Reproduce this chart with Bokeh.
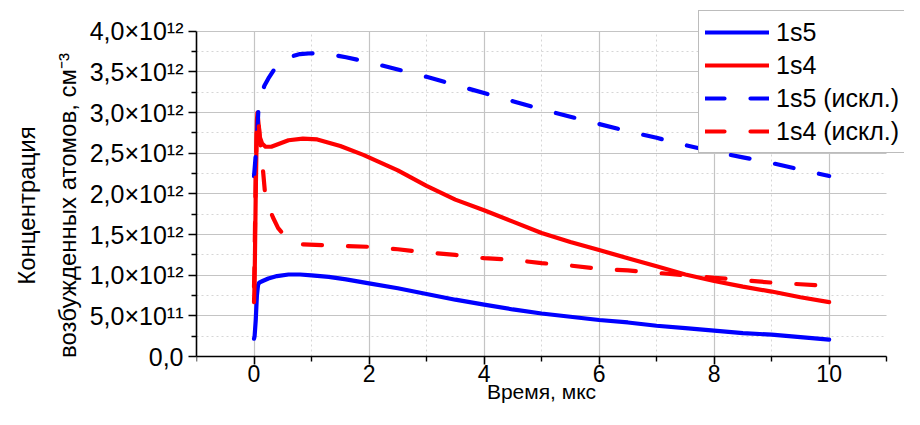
from bokeh.plotting import figure
from bokeh.models import Range1d, FixedTicker, Legend, LegendItem, ColumnDataSource
from bokeh.embed import file_html
from bokeh.resources import INLINE
import numpy as np

# ---- data (concentration in units of 1e12 cm^-3, time in microseconds) ----
t_s5 = [0, 0.01, 0.03, 0.05, 0.07, 0.09, 0.15, 0.25, 0.4, 0.6, 0.8, 1.0, 1.3, 1.6, 2.0, 2.5,
        3.0, 3.5, 4.0, 4.5, 5.0, 5.5, 6.0, 6.5, 7.0, 7.5, 8.0, 8.5, 9.0, 9.5, 10.0]
s5 = [0.22, 0.25, 0.45, 0.75, 0.88, 0.91, 0.93, 0.96, 0.99, 1.01, 1.01, 1.0, 0.98, 0.95, 0.90, 0.84,
      0.77, 0.70, 0.64, 0.58, 0.53, 0.49, 0.45, 0.42, 0.38, 0.35, 0.32, 0.29, 0.27, 0.24, 0.21]

t_s4 = [0, 0.01, 0.03, 0.05, 0.06, 0.08, 0.1, 0.14, 0.2, 0.3, 0.45, 0.6, 0.85, 1.1, 1.5, 1.9,
        2.5, 3.0, 3.5, 4.0, 4.5, 5.0, 5.5, 6.0, 6.5, 7.0, 7.5, 8.0, 8.5, 9.0, 9.5, 10.0]
s4 = [0.67, 0.9, 2.0, 2.9, 3.0, 2.85, 2.7, 2.62, 2.58, 2.58, 2.62, 2.66, 2.68, 2.67, 2.59, 2.48,
      2.29, 2.10, 1.93, 1.80, 1.66, 1.52, 1.41, 1.31, 1.21, 1.11, 1.01, 0.93, 0.86, 0.80, 0.73, 0.67]

t_s5x = [0, 0.01, 0.03, 0.06, 0.08, 0.12, 0.18, 0.25, 0.35, 0.45, 0.6, 0.8, 1.0, 1.3, 1.6, 2.0,
         2.5, 3.0, 3.5, 4.0, 4.5, 5.0, 5.5, 6.0, 6.5, 7.0, 7.5, 8.0, 8.5, 9.0, 9.5, 10.0]
s5x = [2.22, 2.3, 2.48, 2.8, 3.1, 3.2, 3.33, 3.42, 3.53, 3.62, 3.68, 3.72, 3.73, 3.72, 3.68, 3.62,
       3.53, 3.44, 3.34, 3.24, 3.14, 3.04, 2.95, 2.86, 2.77, 2.69, 2.60, 2.52, 2.45, 2.38, 2.30, 2.22]

t_s4x = [0, 0.01, 0.03, 0.05, 0.07, 0.1, 0.14, 0.19, 0.25, 0.33, 0.42, 0.54, 0.7, 0.85, 1.2, 1.6,
         2.0, 2.5, 3.0, 3.5, 4.0, 4.5, 5.0, 5.5, 6.0, 6.5, 7.0, 7.5, 8.0, 8.5, 9.0, 9.5, 10.0]
s4x = [0.86, 1.2, 2.3, 2.9, 2.95, 2.7, 2.42, 2.02, 1.85, 1.71, 1.58, 1.48, 1.41, 1.38, 1.37, 1.36,
       1.35, 1.32, 1.28, 1.25, 1.21, 1.19, 1.15, 1.12, 1.08, 1.06, 1.03, 1.00, 0.97, 0.94, 0.91, 0.89, 0.87]

labels = ["1s5", "1s4", "1s5 (искл.)", "1s4 (искл.)"]

x_ticks = [0, 2, 4, 6, 8, 10]
x_minor = [-1, 1, 3, 5, 7, 9, 11]
y_ticks = [0, 5 * 10**11, 10**12, 15 * 10**11, 2 * 10**12, 25 * 10**11, 3 * 10**12, 35 * 10**11, 4 * 10**12]
y_tick_labels = ["0,0", "5,0×10¹¹", "1,0×10¹²", "1,5×10¹²", "2,0×10¹²", "2,5×10¹²",
                 "3,0×10¹²", "3,5×10¹²", "4,0×10¹²"]
y_minor = [25 * 10**10 * k for k in (1, 3, 5, 7, 9, 11, 13, 15)]

SCALE = 1e12
FONT = "Liberation Sans"

# The frame fills the canvas above / right / below the data box so that the legend can
# overhang it; the x axis is pinned at y=0, and axis lines / grids are bounded to the data box.
p = figure(width=904, height=409, output_backend="svg", toolbar_location=None,
           x_range=Range1d(-1, 11.31), y_range=Range1d(-0.650e12, 4.366e12),
           min_border_left=196, min_border_right=0, min_border_top=1, min_border_bottom=0)
p.outline_line_color = None
p.background_fill_color = "white"
p.border_fill_color = "white"

def src(t, v):
    return ColumnDataSource(dict(x=t, y=list(np.array(v) * SCALE)))

common = dict(line_width=4.2, line_cap="round", line_join="round")
r1 = p.line("x", "y", source=src(t_s5, s5), line_color="#0000ff", **common)
r2 = p.line("x", "y", source=src(t_s4, s4), line_color="#ff0000", **common)
r3 = p.line("x", "y", source=src(t_s5x, s5x), line_color="#0000ff", line_dash="19 26", **common)
r4 = p.line("x", "y", source=src(t_s4x, s4x), line_color="#ff0000", line_dash="19 26", **common)

# axes
p.xaxis.ticker = FixedTicker(ticks=x_ticks, minor_ticks=x_minor)
p.yaxis.ticker = FixedTicker(ticks=y_ticks, minor_ticks=y_minor)
p.yaxis.major_label_overrides = {k: v for k, v in zip(y_ticks, y_tick_labels)}
p.xaxis.bounds = (-1, 11)
p.yaxis.bounds = (0, 4e12)
p.xaxis.fixed_location = 0

for ax in (p.xaxis, p.yaxis):
    ax.axis_line_color = "black"
    ax.axis_line_width = 1.6
    ax.major_tick_line_color = "black"
    ax.major_tick_line_width = 1.6
    ax.minor_tick_line_color = "black"
    ax.minor_tick_line_width = 1.4
    ax.major_tick_in = 0
    ax.major_tick_out = 8
    ax.minor_tick_in = 0
    ax.minor_tick_out = 5
    ax.major_label_text_font = FONT
    ax.major_label_text_color = "black"
    ax.axis_label_text_font = FONT
    ax.axis_label_text_font_style = "normal"
    ax.axis_label_text_color = "black"

p.yaxis.major_label_text_font_size = "25px"
p.xaxis.major_label_text_font_size = "23px"
p.xaxis.axis_label = "Время, мкс"
p.xaxis.axis_label_text_font_size = "21px"
p.xaxis.major_label_standoff = 0
p.xaxis.axis_label_standoff = -5
p.yaxis.axis_label = "Концентрация\nвозбужденных атомов, см⁻³"
p.yaxis.axis_label_text_font_size = "24px"
p.yaxis.major_label_standoff = 5
p.yaxis.axis_label_standoff = 6
p.yaxis.axis_label_text_line_height = 1.5

# grids
p.xgrid.ticker = FixedTicker(ticks=x_ticks, minor_ticks=[1, 3, 5, 7, 9])
p.ygrid.ticker = FixedTicker(ticks=y_ticks, minor_ticks=y_minor)
xg = p.xgrid[0]
yg = p.ygrid[0]
if "cross_bounds" in xg.properties():
    xg.cross_bounds = (0, 4e12)
    yg.cross_bounds = (-1, 11)
yg.bounds = (0, 4e12)
for g in (xg, yg):
    g.grid_line_color = "#c4c4c4"
    g.grid_line_width = 1.2
    g.minor_grid_line_color = "#d6d6d6"
    g.minor_grid_line_width = 1
    g.minor_grid_line_dash = "2 3"

legend = Legend(items=[LegendItem(label=l, renderers=[r]) for l, r in zip(labels, [r1, r2, r3, r4])],
                location=(502, 256))
legend.label_text_font = FONT
legend.label_text_font_size = "25px"
legend.label_text_color = "black"
legend.glyph_width = 64
legend.glyph_height = 30
legend.label_height = 30
legend.label_standoff = 7
legend.spacing = 3
legend.padding = 6
legend.margin = 0
legend.border_line_color = "#7a7a7a"
legend.border_line_width = 1.2
legend.background_fill_color = "white"
legend.background_fill_alpha = 1.0
p.add_layout(legend)

open("out.html", "w").write(file_html(p, INLINE))
